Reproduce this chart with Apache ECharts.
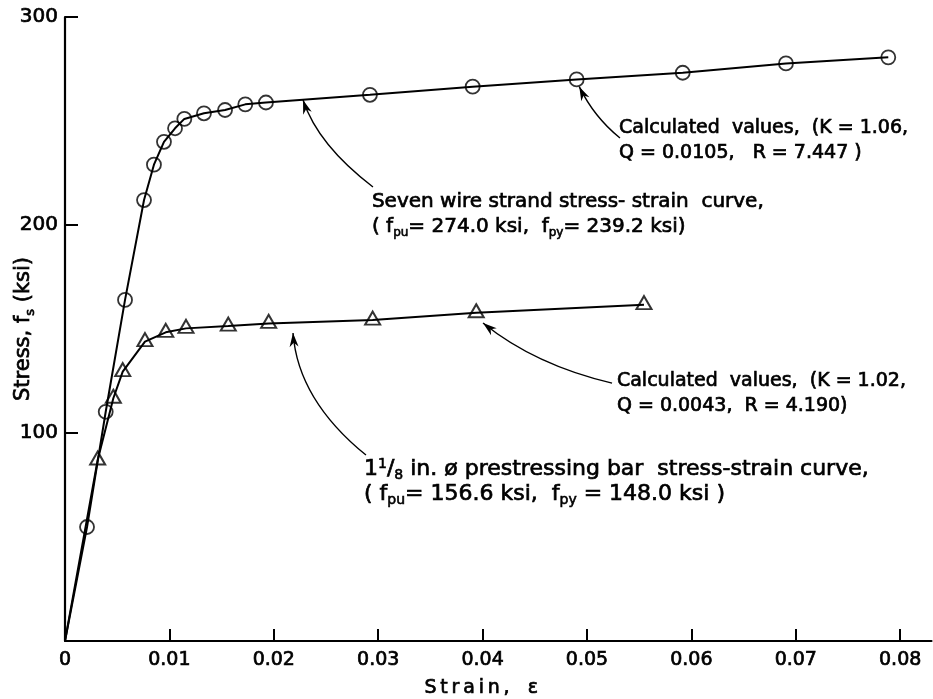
<!DOCTYPE html>
<html>
<head>
<meta charset="utf-8">
<script src="https://cdn.jsdelivr.net/npm/echarts@6/dist/echarts.min.js"></script>
<style>
  html, body { margin: 0; padding: 0; background: #fff; }
  #chart { width: 933px; height: 699px; }
</style>
</head>
<body>
<div id="chart"></div>
<script>
// seven wire strand, calculated values (circles)
var strandStrain = [0.00211, 0.0039, 0.00575, 0.00757, 0.00852, 0.00948, 0.01054, 0.01143, 0.01331,
  0.01533, 0.01727, 0.01925, 0.02921, 0.03905, 0.04901, 0.05917, 0.06906, 0.07886];
var strandStress = [54.8, 110.2, 164, 212, 229, 240, 246.5, 251, 253.7,
  255.3, 258, 258.9, 262.6, 266.5, 270, 273.2, 277.7, 280.6];

// 1 1/8 in. prestressing bar, calculated values (triangles)
var barStrain = [0.00313, 0.00463, 0.00553, 0.00766, 0.00965, 0.01159, 0.01564, 0.01951, 0.02947, 0.03939, 0.05546];
var barStress = [87, 116.7, 129.5, 143.9, 148.4, 150.3, 151.4, 152.7, 154.3, 157.8, 161.7];

var strainTicks = [0, 0.01, 0.02, 0.03, 0.04, 0.05, 0.06, 0.07, 0.08];

var FONT = 'DejaVu Sans';
var INK = { textBorderColor: '#000', textBorderWidth: 0.7 };
var THIN = '\u2009';

function toPoints(xs, ys, fromOrigin) {
  var pts = fromOrigin ? [[0, 0]] : [];
  for (var i = 0; i < xs.length; i++) pts.push([xs[i], ys[i]]);
  return pts;
}

var chart = echarts.init(document.getElementById('chart'));

var option = {
  backgroundColor: '#fff',
  animation: false,
  grid: { left: 65, right: 1.5, top: 17, bottom: 58, containLabel: false, outerBoundsMode: 'none' },
  xAxis: {
    type: 'value',
    min: 0,
    max: 0.083,
    name: 'Strain,'.split('').join(THIN) + '   \u03b5',
    nameLocation: 'middle',
    nameGap: 38,
    nameMoveOverlap: false,
    nameTextStyle: Object.assign({ fontFamily: FONT, fontSize: 19, color: '#000', padding: [0, 34, 0, 0] }, INK),
    axisLine: { lineStyle: { color: '#000', width: 2.2 } },
    axisTick: { inside: true, length: 12, customValues: strainTicks.slice(1), lineStyle: { color: '#000', width: 2 } },
    axisLabel: Object.assign({ customValues: strainTicks, margin: 10, fontFamily: FONT, fontSize: 19, color: '#000',
      formatter: function (v) { return v === 0 ? '0' : v.toFixed(2); } }, INK),
    splitLine: { show: false }
  },
  yAxis: {
    type: 'value',
    min: 0,
    max: 300,
    interval: 100,
    name: '{n|Stress, f}{s|s}{n| (ksi)}',
    nameLocation: 'middle',
    nameGap: 28,
    nameMoveOverlap: false,
    nameTextStyle: {
      fontFamily: FONT, fontSize: 21, color: '#000',
      rich: {
        n: Object.assign({ fontFamily: FONT, fontSize: 21, color: '#000', lineHeight: 26 }, INK),
        s: Object.assign({ fontFamily: FONT, fontSize: 13, color: '#000', verticalAlign: 'bottom' }, INK)
      }
    },
    axisLine: { lineStyle: { color: '#000', width: 2.2 } },
    axisTick: { inside: true, length: 13, lineStyle: { color: '#000', width: 2 } },
    axisLabel: Object.assign({ margin: 7, fontFamily: FONT, fontSize: 20, color: '#000',
      formatter: function (v) { return v === 0 ? '' : String(v); } }, INK),
    splitLine: { show: false }
  },
  series: [
    {
      name: 'strand curve', type: 'line', data: toPoints(strandStrain, strandStress, true),
      smooth: false, showSymbol: false, z: 2,
      lineStyle: { color: '#000', width: 2 }
    },
    {
      name: 'bar curve', type: 'line', data: toPoints(barStrain, barStress, true),
      smooth: false, showSymbol: false, z: 2,
      lineStyle: { color: '#000', width: 2 }
    },
    {
      name: 'strand calculated', type: 'scatter', data: toPoints(strandStrain, strandStress, false),
      symbol: 'circle', symbolSize: 14, z: 3,
      itemStyle: { color: 'transparent', borderColor: '#000', borderWidth: 1.8 }
    },
    {
      name: 'bar calculated', type: 'scatter', data: toPoints(barStrain, barStress, false),
      symbol: 'triangle', symbolSize: [15, 13], symbolOffset: [0, -2], z: 3,
      itemStyle: { color: 'transparent', borderColor: '#000', borderWidth: 2 }
    }
  ]
};
chart.setOption(option);

// leader notes, anchored in data space
var notes = [
  { size: 20, text: 'Seven wire strand stress- strain  curve,\n( f{s|pu}= 274.0 ksi,  f{s|py}= 239.2 ksi)',
    at: [0.0294, 217.3], tail: [0.0295, 218.3], ctrl: [0.02423, 238.5], tip: [0.0228, 260.1] },
  { size: 19, text: 'Calculated  values,  (K = 1.06,\nQ = 0.0105,   R = 7.447 )',
    at: [0.05307, 252.4], tail: [0.05316, 241.8], ctrl: [0.05067, 251.9], tip: [0.04926, 266.5] },
  { size: 19, text: 'Calculated  values,  (K = 1.02,\nQ = 0.0043,  R = 4.190)',
    at: [0.05287, 130.8], tail: [0.0524, 124], ctrl: [0.04502, 132.7], tip: [0.04004, 152.9] },
  { size: 22, text: '1{u|1}/{s|8} in. \u00f8 prestressing bar  stress-strain curve,\n( f{s|pu}= 156.6 ksi,  f{s|py} = 148.0 ksi )',
    at: [0.02864, 88.5], tail: [0.02883, 89.4], ctrl: [0.02232, 115.9], tip: [0.02184, 148.1] }
];

function px(p) { return chart.convertToPixel({ gridIndex: 0 }, p); }

var elements = [];
notes.forEach(function (n) {
  var a = px(n.at), t0 = px(n.tail), c = px(n.ctrl), t1 = px(n.tip);
  var sub = Math.round(n.size * 0.62);
  elements.push({
    type: 'text', x: a[0], y: a[1], z: 10,
    style: {
      text: n.text, fontFamily: FONT, fontSize: n.size, lineHeight: 25, fill: '#000',
      stroke: '#000', lineWidth: 0.7, textVerticalAlign: 'top',
      rich: {
        s: { fontFamily: FONT, fontSize: sub, fill: '#000', stroke: '#000', lineWidth: 0.6, verticalAlign: 'bottom' },
        u: { fontFamily: FONT, fontSize: sub, fill: '#000', stroke: '#000', lineWidth: 0.6, verticalAlign: 'top' }
      }
    }
  });
  elements.push({
    type: 'bezierCurve', z: 10,
    shape: { x1: t0[0], y1: t0[1], cpx1: c[0], cpy1: c[1], x2: t1[0], y2: t1[1] },
    style: { stroke: '#000', lineWidth: 1.4, fill: null }
  });
  // arrow head along the end tangent
  var dx = t1[0] - c[0], dy = t1[1] - c[1], len = Math.sqrt(dx * dx + dy * dy);
  dx /= len; dy /= len;
  var L = 14, W = 4.5;
  elements.push({
    type: 'polygon', z: 11,
    shape: { points: [
      [t1[0], t1[1]],
      [t1[0] - dx * L - dy * W, t1[1] - dy * L + dx * W],
      [t1[0] - dx * L * 0.7, t1[1] - dy * L * 0.7],
      [t1[0] - dx * L + dy * W, t1[1] - dy * L - dx * W]
    ] },
    style: { fill: '#000' }
  });
});
chart.setOption({ graphic: { elements: elements } });
</script>
</body>
</html>
